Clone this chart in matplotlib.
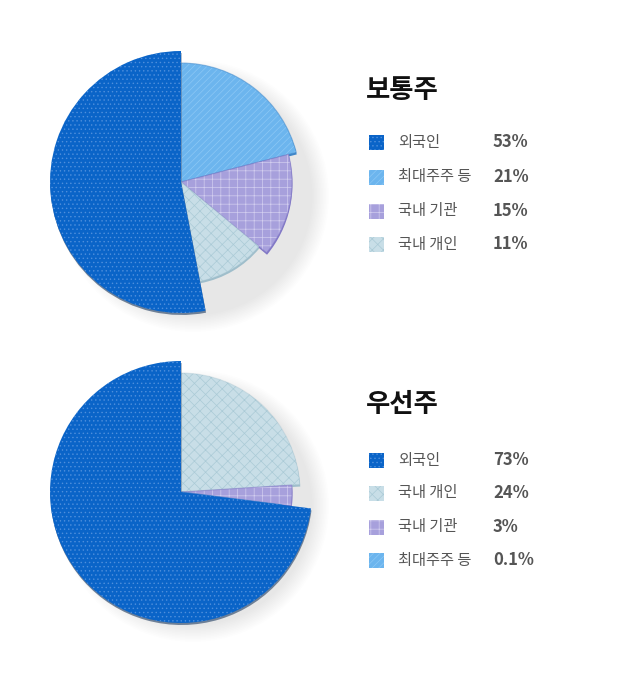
import matplotlib
matplotlib.use('Agg')
import matplotlib.pyplot as plt
from matplotlib.patches import Wedge, Circle, Rectangle

plt.rcParams['font.family'] = ['Noto Sans CJK KR', 'DejaVu Sans']
plt.rcParams['hatch.linewidth'] = 0.5

# data
common_title = '보통주'
common_labels = ['외국인', '최대주주 등', '국내 기관', '국내 개인']
common_values = [53, 21, 15, 11]
common_texts = ['53%', '21%', '15%', '11%']

pref_title = '우선주'
pref_labels = ['외국인', '국내 개인', '국내 기관', '최대주주 등']
pref_values = [73, 24, 3, 0.1]
pref_texts = ['73%', '24%', '3%', '0.1%']

# style per category: face, hatch, hatch colour, rim colour, outline alpha
styles = {
    '외국인': ('#0a64c8', '....', '#4f8fdc', '#6d7f96', 0.0),
    '최대주주 등': ('#6cb5ee', '/////', '#8cc8f5', '#3f86c8', 0.5),
    '국내 기관': ('#a7a0dc', '++', '#d2cdef', '#8178c6', 0.5),
    '국내 개인': ('#c8dee7', 'xxx', '#aacad6', '#9fbecb', 0.3),
}
radii = [131, 119, 111, 101]

W, H = 620, 673
fig = plt.figure(figsize=(W / 100, H / 100), dpi=100)
ax = fig.add_axes([0, 0, 1, 1])
ax.set_xlim(0, W)
ax.set_ylim(0, H)
ax.axis('off')


def styled_wedge(center, r, t1, t2, label, z):
    face, hatch, hcol, rim, oa = styles[label]
    cx, cy = center
    ax.add_patch(Wedge((cx + 0.5, cy - 2), r, t1, t2, facecolor=rim,
                       edgecolor='none', zorder=z))
    ax.add_patch(Wedge(center, r, t1, t2, facecolor=face,
                       edgecolor='none', zorder=z + 0.1))
    ax.add_patch(Wedge(center, r, t1, t2, fill=False, edgecolor=hcol,
                       lw=0, hatch=hatch, zorder=z + 0.2))
    if oa > 0:
        ax.add_patch(Wedge(center, r, t1, t2, fill=False, edgecolor=rim,
                           lw=0.8, alpha=oa, zorder=z + 0.3))


def draw_pie(center_px, labels, values):
    cx, cy = center_px[0], H - center_px[1]
    # soft shadow, mostly below and right
    for k in range(12):
        ax.add_patch(Circle((cx + 12, cy - 14), 118 + (12 - k) * 1.5,
                            color='#000000', alpha=0.009, lw=0, zorder=1))
    # first (largest) slice goes counter-clockwise from 12 o'clock
    t2 = 90 + 360 * values[0] / 100
    styled_wedge((cx, cy), radii[0], 90, t2, labels[0], 5)
    # the rest go clockwise from 12 o'clock
    start = 90
    for i in range(1, len(values)):
        end = start - 360 * values[i] / 100
        styled_wedge((cx, cy), radii[i], end, start, labels[i], 3 + i * 0.5)
        start = end


def draw_legend(title, title_y, labels, texts, row_ys):
    ax.text(366, H - title_y, title, fontsize=19, fontweight='bold',
            color='#111111', ha='left', va='center')
    for lab, txt, y in zip(labels, texts, row_ys):
        face, hatch, hcol, rim, oa = styles[lab]
        ax.add_patch(Rectangle((369, H - y - 7.5), 15, 15, facecolor=face,
                               edgecolor='none', zorder=5))
        ax.add_patch(Rectangle((369, H - y - 7.5), 15, 15, fill=False,
                               edgecolor=hcol, lw=0, hatch=hatch, zorder=6))
        ax.text(398, H - y, lab, fontsize=11, color='#555555',
                ha='left', va='center')
        ax.text(493, H - y, txt, fontsize=12, fontweight='bold',
                color='#555555', ha='left', va='center')


draw_pie((181, 182), common_labels, common_values)
draw_pie((181, 492), pref_labels, pref_values)

draw_legend(common_title, 91, common_labels, common_texts, [142, 177, 211, 244])
draw_legend(pref_title, 405, pref_labels, pref_texts, [460, 493, 527, 560])

fig.savefig('out.png', dpi=100, facecolor='white')
